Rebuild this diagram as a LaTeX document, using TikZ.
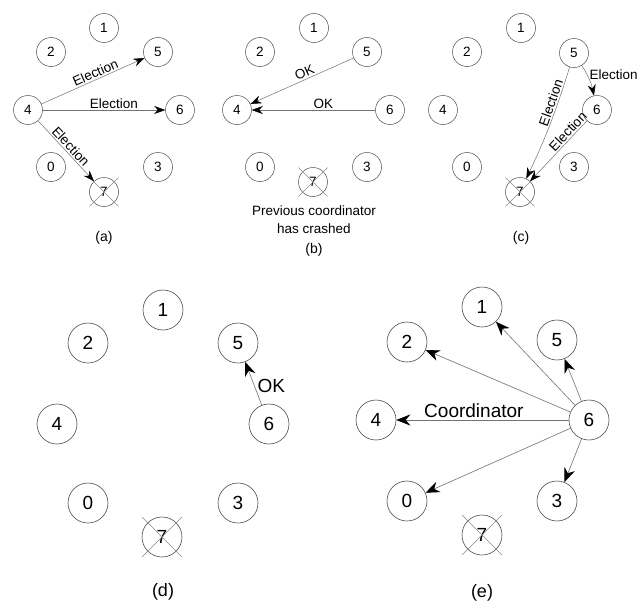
\documentclass[tikz,border=0pt]{standalone}
\usepackage{fontspec}
\setmainfont{Liberation Sans}
\usetikzlibrary{arrows.meta,calc}
\begin{document}
\begin{tikzpicture}[x=1pt,y=-1pt,
  sm/.style={circle,draw=black!70,line width=0.5pt,minimum size=29pt,inner sep=0pt,font=\fontsize{13.5}{16}\selectfont},
  bg/.style={circle,draw=black!70,line width=0.6pt,minimum size=40pt,inner sep=0pt,font=\fontsize{19}{22}\selectfont},
  lbs/.style={font=\fontsize{13.5}{16}\selectfont,inner sep=1.5pt},
  lbb/.style={font=\fontsize{19}{22}\selectfont,inner sep=2pt},
  arrs/.style={draw=black!55,line width=0.5pt,-{Stealth[length=11pt,width=8pt,color=black]}},
  arrb/.style={draw=black!55,line width=0.6pt,-{Stealth[length=14pt,width=11pt,color=black]}},
  xl/.style={draw=black!45,line width=0.5pt},
  caps/.style={font=\fontsize{14}{16}\selectfont},
  capb/.style={font=\fontsize{18}{20}\selectfont}
]
\fill[white] (0,0) rectangle (641,606);
\useasboundingbox (0,0) rectangle (641,606);

% ---------- (a)
\node[sm] (a1) at (104,28) {1};
\node[sm] (a2) at (51,52) {2};
\node[sm] (a5) at (158,52) {5};
\node[sm] (a4) at (28,110) {4};
\node[sm] (a6) at (180,110) {6};
\node[sm] (a0) at (51,167) {0};
\node[sm] (a3) at (158,167) {3};
\node[sm] (a7) at (104,192) {7};
\draw[xl] ([shift={(-14.5,-14.5)}]a7.center) -- ([shift={(14.5,14.5)}]a7.center);
\draw[xl] ([shift={(-14.5,14.5)}]a7.center) -- ([shift={(14.5,-14.5)}]a7.center);
\draw[arrs] (a4) -- node[lbs,sloped,above,pos=0.55] {Election} (a5);
\draw[arrs] (a4) -- node[lbs,above,pos=0.58] {Election} (a6);
\draw[arrs] (a4) -- node[lbs,sloped,above,pos=0.5] {Election} (a7);
\node[caps] (capa) at (104,238) {(a)};

% ---------- (b)
\node[sm] (b1) at (314,28) {1};
\node[sm] (b2) at (260,52) {2};
\node[sm] (b5) at (367,52) {5};
\node[sm] (b4) at (237,110) {4};
\node[sm] (b6) at (390,110) {6};
\node[sm] (b0) at (260,167) {0};
\node[sm] (b3) at (367,167) {3};
\node[sm] (b7) at (313,182) {7};
\draw[xl] ([shift={(-14.5,-14.5)}]b7.center) -- ([shift={(14.5,14.5)}]b7.center);
\draw[xl] ([shift={(-14.5,14.5)}]b7.center) -- ([shift={(14.5,-14.5)}]b7.center);
\draw[arrs] (b5) -- node[lbs,sloped,above,pos=0.45] {OK} (b4);
\draw[arrs] (b6) -- node[lbs,above,pos=0.42] {OK} (b4);
\node[lbs,align=center] (crash) at (314,220) {Previous coordinator\\[2pt]has crashed};
\node[caps] (capb) at (314,250) {(b)};

% ---------- (c)
\node[sm] (c1) at (521,28) {1};
\node[sm] (c2) at (467,52) {2};
\node[sm] (c5) at (574,53) {5};
\node[sm] (c4) at (443,110) {4};
\node[sm] (c6) at (597,110) {6};
\node[sm] (c0) at (467,167) {0};
\node[sm] (c3) at (574,167) {3};
\node[sm] (c7) at (520,192) {7};
\draw[xl] ([shift={(-14.5,-14.5)}]c7.center) -- ([shift={(14.5,14.5)}]c7.center);
\draw[xl] ([shift={(-14.5,14.5)}]c7.center) -- ([shift={(14.5,-14.5)}]c7.center);
\draw[arrs] (c5) to[bend left=10] node[lbs,right,pos=0.3,xshift=1pt] {Election} (c6);
\draw[arrs] (c5) to[bend left=4] node[lbs,sloped,above,pos=0.32] {Election} (c7);
\draw[arrs] (c6) -- node[lbs,sloped,above,pos=0.25] {Election} (c7);
\node[caps] (capc) at (521,238) {(c)};

% ---------- (d)
\node[bg] (d1) at (163,310) {1};
\node[bg] (d2) at (88,343) {2};
\node[bg] (d5) at (238,343) {5};
\node[bg] (d4) at (57,424) {4};
\node[bg] (d6) at (269,424) {6};
\node[bg] (d0) at (88,503) {0};
\node[bg] (d3) at (238,503) {3};
\node[bg] (d7) at (162,537) {7};
\draw[xl] ([shift={(-20,-20)}]d7.center) -- ([shift={(20,20)}]d7.center);
\draw[xl] ([shift={(-20,20)}]d7.center) -- ([shift={(20,-20)}]d7.center);
\draw[arrb] (d6) -- node[lbb,right,pos=0.45,xshift=1pt] {OK} (d5);
\node[capb] (capd) at (163,592) {(d)};

% ---------- (e)
\node[bg] (e1) at (482,307) {1};
\node[bg] (e2) at (407,342) {2};
\node[bg] (e5) at (557,340) {5};
\node[bg] (e4) at (376,420) {4};
\node[bg] (e6) at (589,420) {6};
\node[bg] (e0) at (407,501) {0};
\node[bg] (e3) at (557,501) {3};
\node[bg] (e7) at (482,535) {7};
\draw[xl] ([shift={(-20,-20)}]e7.center) -- ([shift={(20,20)}]e7.center);
\draw[xl] ([shift={(-20,20)}]e7.center) -- ([shift={(20,-20)}]e7.center);
\draw[arrb] (e6) -- (e1);
\draw[arrb] (e6) -- (e2);
\draw[arrb] (e6) -- (e5);
\draw[arrb] (e6) -- node[lbb,above,pos=0.55] {Coordinator} (e4);
\draw[arrb] (e6) -- (e0);
\draw[arrb] (e6) -- (e3);
\node[capb] (cape) at (482,593) {(e)};
\end{tikzpicture}
\end{document}
